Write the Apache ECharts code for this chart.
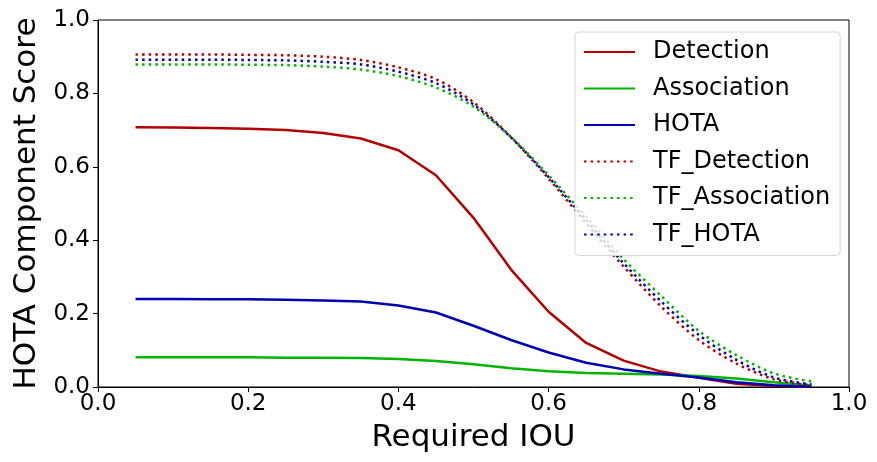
<!DOCTYPE html>
<html>
<head>
<meta charset="utf-8">
<script src="https://cdn.jsdelivr.net/npm/echarts@6/dist/echarts.min.js"></script>
<style>
  html, body { margin: 0; padding: 0; background: #fff; }
  #main { width: 877px; height: 462px; }
</style>
</head>
<body>
<div id="main"></div>
<script>
// IOU thresholds
const iou = [0.05, 0.1, 0.15, 0.2, 0.25, 0.3, 0.35, 0.4, 0.45, 0.5,
             0.55, 0.6, 0.65, 0.7, 0.75, 0.8, 0.85, 0.9, 0.95];

const detection   = [0.708, 0.707, 0.706, 0.704, 0.700, 0.692, 0.677, 0.645, 0.577, 0.461,
                     0.320, 0.205, 0.120, 0.072, 0.042, 0.025, 0.009, 0.003, 0.0005];
const association = [0.081, 0.081, 0.081, 0.081, 0.080, 0.080, 0.079, 0.076, 0.071, 0.062,
                     0.051, 0.043, 0.038, 0.036, 0.034, 0.030, 0.023, 0.013, 0.004];
const hota        = [0.240, 0.240, 0.239, 0.239, 0.238, 0.236, 0.233, 0.222, 0.203, 0.167,
                     0.128, 0.094, 0.066, 0.048, 0.036, 0.026, 0.013, 0.005, 0.001];

const tfDetection   = [0.906, 0.906, 0.906, 0.905, 0.904, 0.900, 0.891, 0.871, 0.839, 0.776,
                       0.681, 0.568, 0.446, 0.328, 0.219, 0.128, 0.064, 0.021, 0.005];
const tfAssociation = [0.879, 0.879, 0.879, 0.878, 0.877, 0.873, 0.865, 0.847, 0.816, 0.764,
                       0.681, 0.577, 0.464, 0.348, 0.248, 0.153, 0.087, 0.037, 0.015];
const tfHota        = [0.892, 0.892, 0.892, 0.891, 0.890, 0.886, 0.879, 0.859, 0.828, 0.770,
                       0.680, 0.572, 0.455, 0.337, 0.233, 0.142, 0.074, 0.026, 0.007];

const RED = '#b40000', GREEN = '#00b400', BLUE = '#0000b4';
const FONT = 'DejaVu Sans';

function pairs(ys) {
  return iou.map((x, i) => [x, ys[i]]);
}

function line(name, ys, color, dotted) {
  return {
    name: name,
    type: 'line',
    data: pairs(ys),
    symbol: 'none',
    smooth: dotted ? 0.3 : false,
    silent: true,
    lineStyle: {
      color: color,
      width: 2.5,
      type: dotted ? [2.5, 4.1] : 'solid',
      cap: 'butt'
    },
    itemStyle: { color: color },
    z: dotted ? 3 : 2
  };
}

const chart = echarts.init(document.getElementById('main'));
chart.setOption({
  animation: false,
  backgroundColor: '#fff',
  textStyle: { fontFamily: FONT },
  grid: {
    left: 98, right: 28, top: 20, bottom: 75,
    show: true, borderColor: '#000', borderWidth: 1
  },
  xAxis: {
    type: 'value',
    min: 0, max: 1, interval: 0.2,
    name: 'Required IOU',
    nameLocation: 'middle',
    nameGap: 35,
    nameTextStyle: { fontSize: 31, color: '#000', fontFamily: FONT },
    axisLine: { show: true, onZero: false, lineStyle: { color: '#000', width: 1 } },
    axisTick: { show: true, length: 5, inside: false, lineStyle: { color: '#000' } },
    axisLabel: {
      fontSize: 23, color: '#000', margin: 6, fontFamily: FONT,
      formatter: v => v.toFixed(1)
    },
    splitLine: { show: false }
  },
  yAxis: {
    type: 'value',
    min: 0, max: 1, interval: 0.2,
    name: 'HOTA Component Score',
    nameLocation: 'middle',
    nameGap: 49,
    nameTextStyle: { fontSize: 31, color: '#000', fontFamily: FONT },
    axisLine: { show: true, onZero: false, lineStyle: { color: '#000', width: 1 } },
    axisTick: { show: true, length: 5, inside: false, lineStyle: { color: '#000' } },
    axisLabel: {
      fontSize: 23, color: '#000', margin: 8, fontFamily: FONT,
      formatter: v => v.toFixed(1)
    },
    splitLine: { show: false }
  },
  legend: {
    orient: 'vertical',
    left: 575, top: 32,
    padding: [8, 10, 9, 8],
    itemWidth: 51, itemHeight: 20,
    itemGap: 12.5,
    backgroundColor: 'rgba(255,255,255,0.8)',
    borderColor: '#d6d6d6', borderWidth: 1, borderRadius: 4,
    itemStyle: { opacity: 0 },
    textStyle: { fontSize: 24, color: '#000', fontFamily: FONT, padding: [0, 0, 0, 13] },
    data: ['Detection', 'Association', 'HOTA', 'TF_Detection', 'TF_Association', 'TF_HOTA']
  },
  series: [
    line('Detection', detection, RED, false),
    line('Association', association, GREEN, false),
    line('HOTA', hota, BLUE, false),
    line('TF_Detection', tfDetection, RED, true),
    line('TF_Association', tfAssociation, GREEN, true),
    line('TF_HOTA', tfHota, BLUE, true)
  ]
});
</script>
</body>
</html>
